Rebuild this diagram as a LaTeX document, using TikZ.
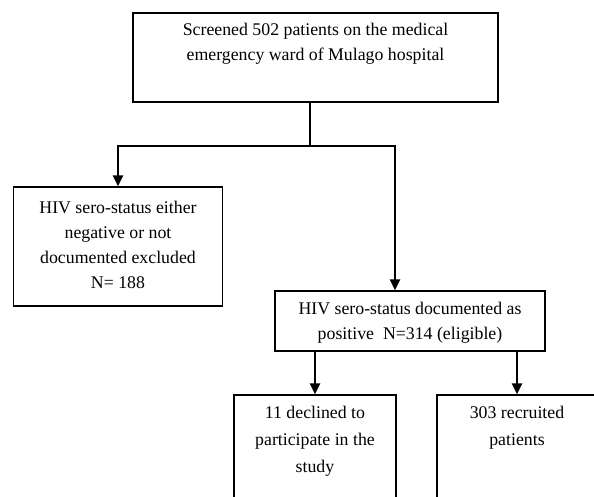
\documentclass[tikz,border=0pt]{standalone}
\usepackage{fontspec}
\setmainfont{Liberation Serif}
\usepackage{tikz}
\usetikzlibrary{positioning,arrows.meta}

\tikzset{
    box/.style={draw, rectangle, line width=1.3pt, inner sep=0pt},
    txt/.style={align=center, inner sep=0pt, font=\fontsize{17.8}{25}\selectfont},
    trunk/.style={line width=1.4pt},
    branch/.style={line width=2.8pt, -{Triangle[length=11pt,width=10pt]}}
}

\begin{document}
\begin{tikzpicture}[x=1pt, y=-1pt]
    \useasboundingbox (0,0) rectangle (594,496);
    \clip (0,0) rectangle (594,496);

    % Screening
    \node[box, minimum width=365pt, minimum height=89pt] (screen) at (315.5,57.5) {};
    \node[txt] (screentxt) at (315.5,44) {Screened 502 patients on the medical\\emergency ward of Mulago hospital};
    \coordinate (split) at (310,146);

    % Excluded
    \node[box, minimum width=209pt, minimum height=119pt] (excl) at (118,246.5) {};
    \node[txt] (excltxt) at (118,245) {HIV sero-status either\\negative or not\\documented excluded\\N= 188};

    % Eligible
    \node[box, minimum width=270pt, minimum height=60pt] (elig) at (410,321) {};
    \node[txt] (eligtxt) at (410,323) {HIV sero-status documented as\\positive \ N=314 (eligible)};

    % Declined and recruited
    \node[box, minimum width=162pt, minimum height=130pt] (decl) at (315,460) {};
    \node[txt, font=\fontsize{17.8}{27}\selectfont] (decltxt) at (315,441) {11 declined to\\participate in the\\study};
    \node[box, minimum width=160pt, minimum height=130pt] (recr) at (517,460) {};
    \node[txt, font=\fontsize{17.8}{27}\selectfont] (recrtxt) at (517,427.5) {303 recruited\\patients};

    % Connectors
    \draw[trunk] (screen.south -| split) -- (split);
    \draw[branch] (split) -| (excl.north);
    \draw[branch] (split) -| ([xshift=-15pt]elig.north);
    \draw[branch] (elig.south -| decl.north) -- (decl.north);
    \draw[branch] (elig.south -| recr.north) -- (recr.north);
\end{tikzpicture}
\end{document}
